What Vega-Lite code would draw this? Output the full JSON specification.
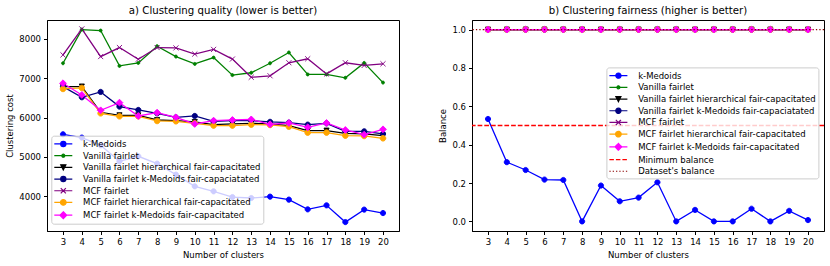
{
  "$schema": "https://vega.github.io/schema/vega-lite/v6.json",
  "background": "white",
  "padding": 5,
  "spacing": 38,
  "config": {
    "font": "DejaVu Sans",
    "view": {"stroke": "black", "strokeWidth": 1},
    "axis": {"labelFont": "DejaVu Sans", "labelFontSize": 8.5, "labelColor": "black", "titleFont": "DejaVu Sans", "titleFontSize": 8.5, "titleFontWeight": "normal", "titleColor": "black", "domainColor": "black", "tickColor": "black", "tickSize": 3.5, "labelPadding": 3, "titlePadding": 4, "grid": false, "domainWidth": 1, "tickWidth": 1, "labelOverlap": false, "labelFlush": false},
    "title": {"font": "DejaVu Sans", "fontSize": 10.2, "fontWeight": "normal", "color": "black", "frame": "group", "anchor": "middle", "offset": 4},
    "legend": {"title": null, "symbolOpacity": 1, "symbolSize": 100, "symbolStrokeWidth": 1.2, "symbolOffset": 3.75, "labelOffset": 13.75, "rowPadding": 0.7, "padding": 2.25, "fillColor": "rgba(255,255,255,0.8)", "strokeColor": "#cccccc", "cornerRadius": 2.5, "labelFont": "DejaVu Sans", "labelFontSize": 8.5, "labelColor": "black", "labelLimit": 400}
  },
  "datasets": {
    "cost": [
      {"k": 3, "k-Medoids": 5577, "Vanilla fairlet": 7381, "Vanilla fairlet hierarchical fair-capacitated": 6790, "Vanilla fairlet k-Medoids fair-capaciatated": 6788, "MCF fairlet": 7593, "MCF fairlet hierarchical fair-capacitated": 6729, "MCF fairlet k-Medoids fair-capacitated": 6873},
      {"k": 4, "k-Medoids": 5493, "Vanilla fairlet": 8237, "Vanilla fairlet hierarchical fair-capacitated": 6790, "Vanilla fairlet k-Medoids fair-capaciatated": 6517, "MCF fairlet": 8254, "MCF fairlet hierarchical fair-capacitated": 6754, "MCF fairlet k-Medoids fair-capacitated": 6576},
      {"k": 5, "k-Medoids": 5297, "Vanilla fairlet": 8212, "Vanilla fairlet hierarchical fair-capacitated": 6136, "Vanilla fairlet k-Medoids fair-capaciatated": 6653, "MCF fairlet": 7551, "MCF fairlet hierarchical fair-capacitated": 6110, "MCF fairlet k-Medoids fair-capacitated": 6186},
      {"k": 6, "k-Medoids": 4891, "Vanilla fairlet": 7314, "Vanilla fairlet hierarchical fair-capacitated": 6059, "Vanilla fairlet k-Medoids fair-capaciatated": 6280, "MCF fairlet": 7780, "MCF fairlet hierarchical fair-capacitated": 6034, "MCF fairlet k-Medoids fair-capacitated": 6381},
      {"k": 7, "k-Medoids": 5018, "Vanilla fairlet": 7390, "Vanilla fairlet hierarchical fair-capacitated": 6059, "Vanilla fairlet k-Medoids fair-capaciatated": 6195, "MCF fairlet": 7483, "MCF fairlet hierarchical fair-capacitated": 6034, "MCF fairlet k-Medoids fair-capacitated": 6042},
      {"k": 8, "k-Medoids": 4832, "Vanilla fairlet": 7815, "Vanilla fairlet hierarchical fair-capacitated": 5940, "Vanilla fairlet k-Medoids fair-capaciatated": 6110, "MCF fairlet": 7780, "MCF fairlet hierarchical fair-capacitated": 5915, "MCF fairlet k-Medoids fair-capacitated": 6127},
      {"k": 9, "k-Medoids": 4552, "Vanilla fairlet": 7551, "Vanilla fairlet hierarchical fair-capacitated": 5924, "Vanilla fairlet k-Medoids fair-capaciatated": 6008, "MCF fairlet": 7771, "MCF fairlet hierarchical fair-capacitated": 5907, "MCF fairlet k-Medoids fair-capacitated": 6008},
      {"k": 10, "k-Medoids": 4255, "Vanilla fairlet": 7364, "Vanilla fairlet hierarchical fair-capacitated": 5890, "Vanilla fairlet k-Medoids fair-capaciatated": 6042, "MCF fairlet": 7615, "MCF fairlet hierarchical fair-capacitated": 5856, "MCF fairlet k-Medoids fair-capacitated": 5839},
      {"k": 11, "k-Medoids": 4128, "Vanilla fairlet": 7525, "Vanilla fairlet hierarchical fair-capacitated": 5822, "Vanilla fairlet k-Medoids fair-capaciatated": 5907, "MCF fairlet": 7733, "MCF fairlet hierarchical fair-capacitated": 5797, "MCF fairlet k-Medoids fair-capacitated": 5924},
      {"k": 12, "k-Medoids": 3983, "Vanilla fairlet": 7080, "Vanilla fairlet hierarchical fair-capacitated": 5839, "Vanilla fairlet k-Medoids fair-capaciatated": 5924, "MCF fairlet": 7488, "MCF fairlet hierarchical fair-capacitated": 5797, "MCF fairlet k-Medoids fair-capacitated": 5941},
      {"k": 13, "k-Medoids": 3958, "Vanilla fairlet": 7140, "Vanilla fairlet hierarchical fair-capacitated": 5856, "Vanilla fairlet k-Medoids fair-capaciatated": 5924, "MCF fairlet": 7025, "MCF fairlet hierarchical fair-capacitated": 5822, "MCF fairlet k-Medoids fair-capacitated": 5955},
      {"k": 14, "k-Medoids": 3993, "Vanilla fairlet": 7381, "Vanilla fairlet hierarchical fair-capacitated": 5839, "Vanilla fairlet k-Medoids fair-capaciatated": 5893, "MCF fairlet": 7063, "MCF fairlet hierarchical fair-capacitated": 5814, "MCF fairlet k-Medoids fair-capacitated": 5831},
      {"k": 15, "k-Medoids": 3917, "Vanilla fairlet": 7655, "Vanilla fairlet hierarchical fair-capacitated": 5797, "Vanilla fairlet k-Medoids fair-capaciatated": 5873, "MCF fairlet": 7394, "MCF fairlet hierarchical fair-capacitated": 5771, "MCF fairlet k-Medoids fair-capacitated": 5864},
      {"k": 16, "k-Medoids": 3670, "Vanilla fairlet": 7097, "Vanilla fairlet hierarchical fair-capacitated": 5670, "Vanilla fairlet k-Medoids fair-capaciatated": 5822, "MCF fairlet": 7495, "MCF fairlet hierarchical fair-capacitated": 5619, "MCF fairlet k-Medoids fair-capacitated": 5754},
      {"k": 17, "k-Medoids": 3772, "Vanilla fairlet": 7097, "Vanilla fairlet hierarchical fair-capacitated": 5670, "Vanilla fairlet k-Medoids fair-capaciatated": 5856, "MCF fairlet": 7110, "MCF fairlet hierarchical fair-capacitated": 5619, "MCF fairlet k-Medoids fair-capacitated": 5864},
      {"k": 18, "k-Medoids": 3347, "Vanilla fairlet": 7012, "Vanilla fairlet hierarchical fair-capacitated": 5602, "Vanilla fairlet k-Medoids fair-capaciatated": 5653, "MCF fairlet": 7394, "MCF fairlet hierarchical fair-capacitated": 5542, "MCF fairlet k-Medoids fair-capacitated": 5686},
      {"k": 19, "k-Medoids": 3663, "Vanilla fairlet": 7390, "Vanilla fairlet hierarchical fair-capacitated": 5585, "Vanilla fairlet k-Medoids fair-capaciatated": 5653, "MCF fairlet": 7326, "MCF fairlet hierarchical fair-capacitated": 5534, "MCF fairlet k-Medoids fair-capacitated": 5568},
      {"k": 20, "k-Medoids": 3576, "Vanilla fairlet": 6890, "Vanilla fairlet hierarchical fair-capacitated": 5542, "Vanilla fairlet k-Medoids fair-capaciatated": 5585, "MCF fairlet": 7368, "MCF fairlet hierarchical fair-capacitated": 5475, "MCF fairlet k-Medoids fair-capacitated": 5703}
    ],
    "balance": [
      {"k": 3, "k-Medoids": 0.534, "Vanilla fairlet": 1, "Vanilla fairlet hierarchical fair-capacitated": 1, "Vanilla fairlet k-Medoids fair-capaciatated": 1, "MCF fairlet": 1, "MCF fairlet hierarchical fair-capacitated": 1, "MCF fairlet k-Medoids fair-capacitated": 1},
      {"k": 4, "k-Medoids": 0.309, "Vanilla fairlet": 1, "Vanilla fairlet hierarchical fair-capacitated": 1, "Vanilla fairlet k-Medoids fair-capaciatated": 1, "MCF fairlet": 1, "MCF fairlet hierarchical fair-capacitated": 1, "MCF fairlet k-Medoids fair-capacitated": 1},
      {"k": 5, "k-Medoids": 0.268, "Vanilla fairlet": 1, "Vanilla fairlet hierarchical fair-capacitated": 1, "Vanilla fairlet k-Medoids fair-capaciatated": 1, "MCF fairlet": 1, "MCF fairlet hierarchical fair-capacitated": 1, "MCF fairlet k-Medoids fair-capacitated": 1},
      {"k": 6, "k-Medoids": 0.218, "Vanilla fairlet": 1, "Vanilla fairlet hierarchical fair-capacitated": 1, "Vanilla fairlet k-Medoids fair-capaciatated": 1, "MCF fairlet": 1, "MCF fairlet hierarchical fair-capacitated": 1, "MCF fairlet k-Medoids fair-capacitated": 1},
      {"k": 7, "k-Medoids": 0.216, "Vanilla fairlet": 1, "Vanilla fairlet hierarchical fair-capacitated": 1, "Vanilla fairlet k-Medoids fair-capaciatated": 1, "MCF fairlet": 1, "MCF fairlet hierarchical fair-capacitated": 1, "MCF fairlet k-Medoids fair-capacitated": 1},
      {"k": 8, "k-Medoids": 0.0, "Vanilla fairlet": 1, "Vanilla fairlet hierarchical fair-capacitated": 1, "Vanilla fairlet k-Medoids fair-capaciatated": 1, "MCF fairlet": 1, "MCF fairlet hierarchical fair-capacitated": 1, "MCF fairlet k-Medoids fair-capacitated": 1},
      {"k": 9, "k-Medoids": 0.187, "Vanilla fairlet": 1, "Vanilla fairlet hierarchical fair-capacitated": 1, "Vanilla fairlet k-Medoids fair-capaciatated": 1, "MCF fairlet": 1, "MCF fairlet hierarchical fair-capacitated": 1, "MCF fairlet k-Medoids fair-capacitated": 1},
      {"k": 10, "k-Medoids": 0.105, "Vanilla fairlet": 1, "Vanilla fairlet hierarchical fair-capacitated": 1, "Vanilla fairlet k-Medoids fair-capaciatated": 1, "MCF fairlet": 1, "MCF fairlet hierarchical fair-capacitated": 1, "MCF fairlet k-Medoids fair-capacitated": 1},
      {"k": 11, "k-Medoids": 0.124, "Vanilla fairlet": 1, "Vanilla fairlet hierarchical fair-capacitated": 1, "Vanilla fairlet k-Medoids fair-capaciatated": 1, "MCF fairlet": 1, "MCF fairlet hierarchical fair-capacitated": 1, "MCF fairlet k-Medoids fair-capacitated": 1},
      {"k": 12, "k-Medoids": 0.204, "Vanilla fairlet": 1, "Vanilla fairlet hierarchical fair-capacitated": 1, "Vanilla fairlet k-Medoids fair-capaciatated": 1, "MCF fairlet": 1, "MCF fairlet hierarchical fair-capacitated": 1, "MCF fairlet k-Medoids fair-capacitated": 1},
      {"k": 13, "k-Medoids": 0.0, "Vanilla fairlet": 1, "Vanilla fairlet hierarchical fair-capacitated": 1, "Vanilla fairlet k-Medoids fair-capaciatated": 1, "MCF fairlet": 1, "MCF fairlet hierarchical fair-capacitated": 1, "MCF fairlet k-Medoids fair-capacitated": 1},
      {"k": 14, "k-Medoids": 0.06, "Vanilla fairlet": 1, "Vanilla fairlet hierarchical fair-capacitated": 1, "Vanilla fairlet k-Medoids fair-capaciatated": 1, "MCF fairlet": 1, "MCF fairlet hierarchical fair-capacitated": 1, "MCF fairlet k-Medoids fair-capacitated": 1},
      {"k": 15, "k-Medoids": 0.0, "Vanilla fairlet": 1, "Vanilla fairlet hierarchical fair-capacitated": 1, "Vanilla fairlet k-Medoids fair-capaciatated": 1, "MCF fairlet": 1, "MCF fairlet hierarchical fair-capacitated": 1, "MCF fairlet k-Medoids fair-capacitated": 1},
      {"k": 16, "k-Medoids": 0.0, "Vanilla fairlet": 1, "Vanilla fairlet hierarchical fair-capacitated": 1, "Vanilla fairlet k-Medoids fair-capaciatated": 1, "MCF fairlet": 1, "MCF fairlet hierarchical fair-capacitated": 1, "MCF fairlet k-Medoids fair-capacitated": 1},
      {"k": 17, "k-Medoids": 0.066, "Vanilla fairlet": 1, "Vanilla fairlet hierarchical fair-capacitated": 1, "Vanilla fairlet k-Medoids fair-capaciatated": 1, "MCF fairlet": 1, "MCF fairlet hierarchical fair-capacitated": 1, "MCF fairlet k-Medoids fair-capacitated": 1},
      {"k": 18, "k-Medoids": 0.0, "Vanilla fairlet": 1, "Vanilla fairlet hierarchical fair-capacitated": 1, "Vanilla fairlet k-Medoids fair-capaciatated": 1, "MCF fairlet": 1, "MCF fairlet hierarchical fair-capacitated": 1, "MCF fairlet k-Medoids fair-capacitated": 1},
      {"k": 19, "k-Medoids": 0.055, "Vanilla fairlet": 1, "Vanilla fairlet hierarchical fair-capacitated": 1, "Vanilla fairlet k-Medoids fair-capaciatated": 1, "MCF fairlet": 1, "MCF fairlet hierarchical fair-capacitated": 1, "MCF fairlet k-Medoids fair-capacitated": 1},
      {"k": 20, "k-Medoids": 0.007, "Vanilla fairlet": 1, "Vanilla fairlet hierarchical fair-capacitated": 1, "Vanilla fairlet k-Medoids fair-capaciatated": 1, "MCF fairlet": 1, "MCF fairlet hierarchical fair-capacitated": 1, "MCF fairlet k-Medoids fair-capacitated": 1}
    ],
    "minref": [{"series": "Minimum balance", "balance": 0.5}],
    "dsref": [{"series": "Dataset's balance", "balance": 1.0}]
  },
  "resolve": {"scale": {"color": "independent", "stroke": "independent", "shape": "independent", "strokeDash": "independent", "y": "independent"}, "legend": {"color": "independent", "stroke": "independent", "shape": "independent", "strokeDash": "independent"}},
  "hconcat": [
    {
      "width": 352,
      "height": 211,
      "title": {"text": "a) Clustering quality (lower is better)"},
      "data": {"name": "cost"},
      "transform": [{"fold": ["k-Medoids", "Vanilla fairlet", "Vanilla fairlet hierarchical fair-capacitated", "Vanilla fairlet k-Medoids fair-capaciatated", "MCF fairlet", "MCF fairlet hierarchical fair-capacitated", "MCF fairlet k-Medoids fair-capacitated"], "as": ["series", "cost"]}],
      "encoding": {
        "x": {"field": "k", "type": "quantitative", "scale": {"domain": [2.15, 20.85], "nice": false, "zero": false}, "axis": {"values": [3, 4, 5, 6, 7, 8, 9, 10, 11, 12, 13, 14, 15, 16, 17, 18, 19, 20], "format": "d", "title": "Number of clusters"}},
        "y": {"field": "cost", "type": "quantitative", "scale": {"domain": [3120, 8480], "nice": false, "zero": false}, "axis": {"values": [4000, 5000, 6000, 7000, 8000], "format": "d", "title": "Clustering cost"}}
      },
      "resolve": {"scale": {"color": "independent", "stroke": "independent", "shape": "independent"}},
      "layer": [
        {
          "mark": {"type": "point", "filled": true, "opacity": 0, "size": 100, "strokeWidth": 1.2},
          "encoding": {
            "color": {"field": "series", "type": "nominal",
              "scale": {"domain": ["k-Medoids", "Vanilla fairlet", "Vanilla fairlet hierarchical fair-capacitated", "Vanilla fairlet k-Medoids fair-capaciatated", "MCF fairlet", "MCF fairlet hierarchical fair-capacitated", "MCF fairlet k-Medoids fair-capacitated"], "range": ["#0000ff", "#008000", "#000000", "#000080", "#800080", "#ffa500", "#ff00ff"]},
              "legend": {"orient": "none", "legendX": 4.3, "legendY": 115.7}},
            "stroke": {"field": "series", "type": "nominal",
              "scale": {"domain": ["k-Medoids", "Vanilla fairlet", "Vanilla fairlet hierarchical fair-capacitated", "Vanilla fairlet k-Medoids fair-capaciatated", "MCF fairlet", "MCF fairlet hierarchical fair-capacitated", "MCF fairlet k-Medoids fair-capacitated"], "range": ["#0000ff", "#008000", "#000000", "#000080", "#800080", "#ffa500", "#ff00ff"]},
              "legend": {"orient": "none", "legendX": 4.3, "legendY": 115.7}},
            "shape": {"field": "series", "type": "nominal",
              "scale": {"domain": ["k-Medoids", "Vanilla fairlet", "Vanilla fairlet hierarchical fair-capacitated", "Vanilla fairlet k-Medoids fair-capaciatated", "MCF fairlet", "MCF fairlet hierarchical fair-capacitated", "MCF fairlet k-Medoids fair-capacitated"], "range": ["M-1.8,0H1.8M-0.52,0A0.52,0.52,0,1,1,0.52,0A0.52,0.52,0,1,1,-0.52,0Z", "M-1.8,0H1.8M-0.3,0A0.3,0.3,0,1,1,0.3,0A0.3,0.3,0,1,1,-0.3,0Z", "M-1.8,0H1.8M0,0.51L-0.51,-0.51L0.51,-0.51Z", "M-1.8,0H1.8M-0.52,0A0.52,0.52,0,1,1,0.52,0A0.52,0.52,0,1,1,-0.52,0Z", "M-1.8,0H1.8M-0.51,-0.51L0.51,0.51M-0.51,0.51L0.51,-0.51", "M-1.8,0H1.8M-0.56,0A0.56,0.56,0,1,1,0.56,0A0.56,0.56,0,1,1,-0.56,0Z", "M-1.8,0H1.8M0,-0.68L0.68,0L0,0.68L-0.68,0Z"]},
              "legend": {"orient": "none", "legendX": 4.3, "legendY": 115.7}}
          }
        },
        {
          "mark": {"type": "line", "strokeWidth": 1.3},
          "encoding": {
            "color": {"field": "series", "type": "nominal", "legend": null,
              "scale": {"domain": ["k-Medoids", "Vanilla fairlet", "Vanilla fairlet hierarchical fair-capacitated", "Vanilla fairlet k-Medoids fair-capaciatated", "MCF fairlet", "MCF fairlet hierarchical fair-capacitated", "MCF fairlet k-Medoids fair-capacitated"], "range": ["#0000ff", "#008000", "#000000", "#000080", "#800080", "#ffa500", "#ff00ff"]}}
          }
        },
        {
          "mark": {"type": "point", "filled": true, "opacity": 1, "size": 100, "strokeWidth": 0.9},
          "encoding": {
            "color": {"field": "series", "type": "nominal", "legend": null,
              "scale": {"domain": ["k-Medoids", "Vanilla fairlet", "Vanilla fairlet hierarchical fair-capacitated", "Vanilla fairlet k-Medoids fair-capaciatated", "MCF fairlet", "MCF fairlet hierarchical fair-capacitated", "MCF fairlet k-Medoids fair-capacitated"], "range": ["#0000ff", "#008000", "#000000", "#000080", "#800080", "#ffa500", "#ff00ff"]}},
            "stroke": {"field": "series", "type": "nominal", "legend": null,
              "scale": {"domain": ["k-Medoids", "Vanilla fairlet", "Vanilla fairlet hierarchical fair-capacitated", "Vanilla fairlet k-Medoids fair-capaciatated", "MCF fairlet", "MCF fairlet hierarchical fair-capacitated", "MCF fairlet k-Medoids fair-capacitated"], "range": ["#0000ff", "#008000", "#000000", "#000080", "#800080", "#ffa500", "#ff00ff"]}},
            "shape": {"field": "series", "type": "nominal", "legend": null,
              "scale": {"domain": ["k-Medoids", "Vanilla fairlet", "Vanilla fairlet hierarchical fair-capacitated", "Vanilla fairlet k-Medoids fair-capaciatated", "MCF fairlet", "MCF fairlet hierarchical fair-capacitated", "MCF fairlet k-Medoids fair-capacitated"], "range": ["M-0.52,0A0.52,0.52,0,1,1,0.52,0A0.52,0.52,0,1,1,-0.52,0Z", "M-0.3,0A0.3,0.3,0,1,1,0.3,0A0.3,0.3,0,1,1,-0.3,0Z", "M0,0.51L-0.51,-0.51L0.51,-0.51Z", "M-0.52,0A0.52,0.52,0,1,1,0.52,0A0.52,0.52,0,1,1,-0.52,0Z", "M-0.51,-0.51L0.51,0.51M-0.51,0.51L0.51,-0.51", "M-0.56,0A0.56,0.56,0,1,1,0.56,0A0.56,0.56,0,1,1,-0.56,0Z", "M0,-0.68L0.68,0L0,0.68L-0.68,0Z"]}}
          }
        }
      ]
    },
    {
      "width": 352,
      "height": 211,
      "title": {"text": "b) Clustering fairness (higher is better)"},
      "data": {"name": "balance"},
      "transform": [{"fold": ["k-Medoids", "Vanilla fairlet", "Vanilla fairlet hierarchical fair-capacitated", "Vanilla fairlet k-Medoids fair-capaciatated", "MCF fairlet", "MCF fairlet hierarchical fair-capacitated", "MCF fairlet k-Medoids fair-capacitated"], "as": ["series", "balance"]}],
      "resolve": {"scale": {"color": "independent", "stroke": "independent", "shape": "independent", "strokeDash": "independent"}},
      "layer": [
        {
          "mark": {"type": "point", "filled": true, "opacity": 0, "size": 100, "strokeWidth": 1.2},
          "encoding": {
            "x": {"field": "k", "type": "quantitative", "scale": {"domain": [2.15, 20.85], "nice": false, "zero": false}, "axis": {"values": [3, 4, 5, 6, 7, 8, 9, 10, 11, 12, 13, 14, 15, 16, 17, 18, 19, 20], "format": "d", "title": "Number of clusters"}},
            "y": {"field": "balance", "type": "quantitative", "scale": {"domain": [-0.05, 1.05], "nice": false, "zero": false}, "axis": {"values": [0, 0.2, 0.4, 0.6, 0.8, 1.0], "format": ".1f", "title": "Balance"}},
            "color": {"field": "series", "type": "nominal",
              "scale": {"domain": ["k-Medoids", "Vanilla fairlet", "Vanilla fairlet hierarchical fair-capacitated", "Vanilla fairlet k-Medoids fair-capaciatated", "MCF fairlet", "MCF fairlet hierarchical fair-capacitated", "MCF fairlet k-Medoids fair-capacitated", "Minimum balance", "Dataset's balance"], "range": ["#0000ff", "#008000", "#000000", "#000080", "#800080", "#ffa500", "#ff00ff", "#ff0000", "#8b0000"]},
              "legend": {"orient": "none", "legendX": 134.4, "legendY": 47.4}},
            "stroke": {"field": "series", "type": "nominal",
              "scale": {"domain": ["k-Medoids", "Vanilla fairlet", "Vanilla fairlet hierarchical fair-capacitated", "Vanilla fairlet k-Medoids fair-capaciatated", "MCF fairlet", "MCF fairlet hierarchical fair-capacitated", "MCF fairlet k-Medoids fair-capacitated", "Minimum balance", "Dataset's balance"], "range": ["#0000ff", "#008000", "#000000", "#000080", "#800080", "#ffa500", "#ff00ff", "#ff0000", "#8b0000"]},
              "legend": {"orient": "none", "legendX": 134.4, "legendY": 47.4}},
            "shape": {"field": "series", "type": "nominal",
              "scale": {"domain": ["k-Medoids", "Vanilla fairlet", "Vanilla fairlet hierarchical fair-capacitated", "Vanilla fairlet k-Medoids fair-capaciatated", "MCF fairlet", "MCF fairlet hierarchical fair-capacitated", "MCF fairlet k-Medoids fair-capacitated", "Minimum balance", "Dataset's balance"], "range": ["M-1.8,0H1.8M-0.52,0A0.52,0.52,0,1,1,0.52,0A0.52,0.52,0,1,1,-0.52,0Z", "M-1.8,0H1.8M-0.3,0A0.3,0.3,0,1,1,0.3,0A0.3,0.3,0,1,1,-0.3,0Z", "M-1.8,0H1.8M0,0.51L-0.51,-0.51L0.51,-0.51Z", "M-1.8,0H1.8M-0.52,0A0.52,0.52,0,1,1,0.52,0A0.52,0.52,0,1,1,-0.52,0Z", "M-1.8,0H1.8M-0.51,-0.51L0.51,0.51M-0.51,0.51L0.51,-0.51", "M-1.8,0H1.8M-0.56,0A0.56,0.56,0,1,1,0.56,0A0.56,0.56,0,1,1,-0.56,0Z", "M-1.8,0H1.8M0,-0.68L0.68,0L0,0.68L-0.68,0Z", "M-1.8,0H1.8", "M-1.8,0H1.8"]},
              "legend": {"orient": "none", "legendX": 134.4, "legendY": 47.4}},
            "strokeDash": {"field": "series", "type": "nominal",
              "scale": {"domain": ["k-Medoids", "Vanilla fairlet", "Vanilla fairlet hierarchical fair-capacitated", "Vanilla fairlet k-Medoids fair-capaciatated", "MCF fairlet", "MCF fairlet hierarchical fair-capacitated", "MCF fairlet k-Medoids fair-capacitated", "Minimum balance", "Dataset's balance"], "range": [[1, 0], [1, 0], [1, 0], [1, 0], [1, 0], [1, 0], [1, 0], [4.5, 2], [1.3, 2]]},
              "legend": {"orient": "none", "legendX": 134.4, "legendY": 47.4}}
          }
        },
        {
          "mark": {"type": "line", "strokeWidth": 1.3},
          "encoding": {
            "x": {"field": "k", "type": "quantitative", "scale": {"domain": [2.15, 20.85], "nice": false, "zero": false}, "axis": {"values": [3, 4, 5, 6, 7, 8, 9, 10, 11, 12, 13, 14, 15, 16, 17, 18, 19, 20], "format": "d", "title": "Number of clusters"}},
            "y": {"field": "balance", "type": "quantitative", "scale": {"domain": [-0.05, 1.05], "nice": false, "zero": false}, "axis": {"values": [0, 0.2, 0.4, 0.6, 0.8, 1.0], "format": ".1f", "title": "Balance"}},
            "color": {"field": "series", "type": "nominal", "legend": null,
              "scale": {"domain": ["k-Medoids", "Vanilla fairlet", "Vanilla fairlet hierarchical fair-capacitated", "Vanilla fairlet k-Medoids fair-capaciatated", "MCF fairlet", "MCF fairlet hierarchical fair-capacitated", "MCF fairlet k-Medoids fair-capacitated", "Minimum balance", "Dataset's balance"], "range": ["#0000ff", "#008000", "#000000", "#000080", "#800080", "#ffa500", "#ff00ff", "#ff0000", "#8b0000"]}}
          }
        },
        {
          "mark": {"type": "point", "filled": true, "opacity": 1, "size": 100, "strokeWidth": 0.9},
          "encoding": {
            "x": {"field": "k", "type": "quantitative", "scale": {"domain": [2.15, 20.85], "nice": false, "zero": false}, "axis": {"values": [3, 4, 5, 6, 7, 8, 9, 10, 11, 12, 13, 14, 15, 16, 17, 18, 19, 20], "format": "d", "title": "Number of clusters"}},
            "y": {"field": "balance", "type": "quantitative", "scale": {"domain": [-0.05, 1.05], "nice": false, "zero": false}, "axis": {"values": [0, 0.2, 0.4, 0.6, 0.8, 1.0], "format": ".1f", "title": "Balance"}},
            "color": {"field": "series", "type": "nominal", "legend": null,
              "scale": {"domain": ["k-Medoids", "Vanilla fairlet", "Vanilla fairlet hierarchical fair-capacitated", "Vanilla fairlet k-Medoids fair-capaciatated", "MCF fairlet", "MCF fairlet hierarchical fair-capacitated", "MCF fairlet k-Medoids fair-capacitated", "Minimum balance", "Dataset's balance"], "range": ["#0000ff", "#008000", "#000000", "#000080", "#800080", "#ffa500", "#ff00ff", "#ff0000", "#8b0000"]}},
            "stroke": {"field": "series", "type": "nominal", "legend": null,
              "scale": {"domain": ["k-Medoids", "Vanilla fairlet", "Vanilla fairlet hierarchical fair-capacitated", "Vanilla fairlet k-Medoids fair-capaciatated", "MCF fairlet", "MCF fairlet hierarchical fair-capacitated", "MCF fairlet k-Medoids fair-capacitated", "Minimum balance", "Dataset's balance"], "range": ["#0000ff", "#008000", "#000000", "#000080", "#800080", "#ffa500", "#ff00ff", "#ff0000", "#8b0000"]}},
            "shape": {"field": "series", "type": "nominal", "legend": null,
              "scale": {"domain": ["k-Medoids", "Vanilla fairlet", "Vanilla fairlet hierarchical fair-capacitated", "Vanilla fairlet k-Medoids fair-capaciatated", "MCF fairlet", "MCF fairlet hierarchical fair-capacitated", "MCF fairlet k-Medoids fair-capacitated", "Minimum balance", "Dataset's balance"], "range": ["M-0.52,0A0.52,0.52,0,1,1,0.52,0A0.52,0.52,0,1,1,-0.52,0Z", "M-0.3,0A0.3,0.3,0,1,1,0.3,0A0.3,0.3,0,1,1,-0.3,0Z", "M0,0.51L-0.51,-0.51L0.51,-0.51Z", "M-0.52,0A0.52,0.52,0,1,1,0.52,0A0.52,0.52,0,1,1,-0.52,0Z", "M-0.51,-0.51L0.51,0.51M-0.51,0.51L0.51,-0.51", "M-0.56,0A0.56,0.56,0,1,1,0.56,0A0.56,0.56,0,1,1,-0.56,0Z", "M0,-0.68L0.68,0L0,0.68L-0.68,0Z", "M-1.8,0H1.8", "M-1.8,0H1.8"]}}
          }
        },
        {
          "data": {"name": "minref"},
          "mark": {"type": "rule", "strokeWidth": 1.3, "color": "#ff0000", "stroke": "#ff0000", "strokeDash": [4.7, 2], "opacity": 1},
          "encoding": {
            "y": {"field": "balance", "type": "quantitative", "scale": {"domain": [-0.05, 1.05], "nice": false, "zero": false}, "axis": {"values": [0, 0.2, 0.4, 0.6, 0.8, 1.0], "format": ".1f", "title": "Balance"}}
          }
        },
        {
          "data": {"name": "dsref"},
          "mark": {"type": "rule", "strokeWidth": 1.3, "color": "#8b0000", "stroke": "#8b0000", "strokeDash": [1.3, 2.1], "opacity": 1},
          "encoding": {
            "y": {"field": "balance", "type": "quantitative", "scale": {"domain": [-0.05, 1.05], "nice": false, "zero": false}, "axis": {"values": [0, 0.2, 0.4, 0.6, 0.8, 1.0], "format": ".1f", "title": "Balance"}}
          }
        }
      ]
    }
  ]
}
